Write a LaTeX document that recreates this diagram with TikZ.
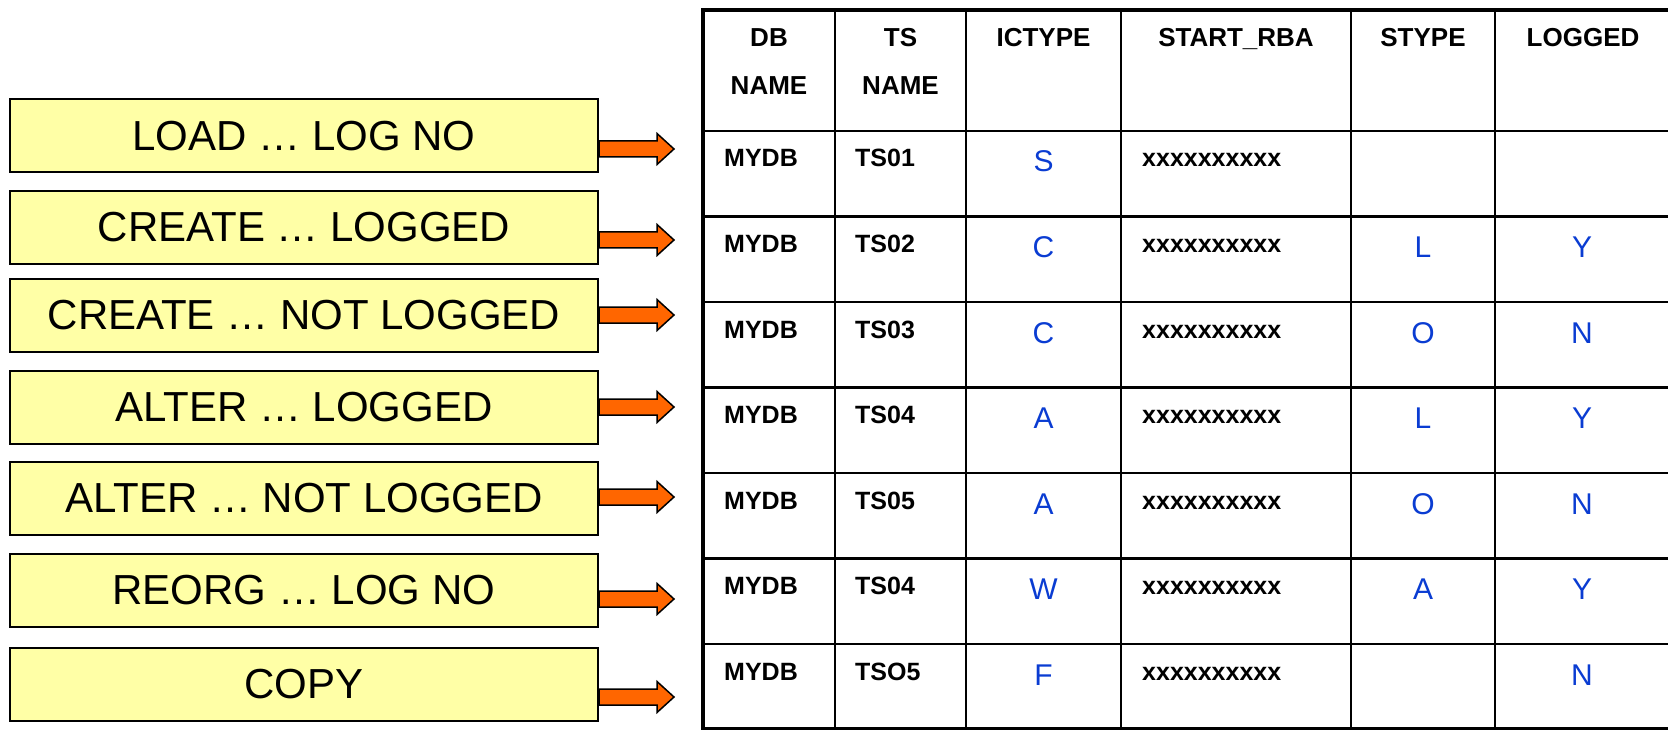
\documentclass[tikz,border=0pt]{standalone}
\usepackage{fontspec}
\setmainfont{Liberation Sans}
\usepackage{tikz}
\usetikzlibrary{calc, positioning}

\definecolor{boxyellow}{RGB}{255,255,166}
\definecolor{arroworange}{RGB}{255,102,0}
\definecolor{codeblue}{RGB}{10,60,210}

\NewDocumentCommand{\fatarrow}{%
    O{}     % drawing options
    mm      % from, tip
    }{%
    \path[#1] let
        \p1 = (#2),
        \p2 = (#3)
    in
        (\x1,{\y1+8pt}) -- ({\x2-17pt},{\y1+8pt}) -- ({\x2-17pt},{\y1+15.5pt})
        -- (\x2,\y1) -- ({\x2-17pt},{\y1-15.5pt}) -- ({\x2-17pt},{\y1-8pt})
        -- (\x1,{\y1-8pt}) -- cycle;
}

\begin{document}
\begin{tikzpicture}[x=1pt, y=-1pt,
    cmdbox/.style={draw, line width=2pt, fill=boxyellow, minimum width=588pt,
        minimum height=73pt, inner sep=0pt, font=\fontsize{42}{50}\selectfont},
    hdr/.style={anchor=base, inner sep=0pt, font=\fontsize{26}{31}\selectfont\bfseries},
    cell/.style={anchor=base west, inner sep=0pt, font=\fontsize{25}{30}\selectfont\bfseries},
    letter/.style={anchor=base, inner sep=0pt, text=codeblue, font=\fontsize{30}{36}\selectfont}]
    \useasboundingbox (0,0) rectangle (1668,730);

    % table grid
    \coordinate (tl) at (703,10);
    \coordinate (br) at (1672,729);
    \foreach \x in {835,966,1121,1351,1495}
        \draw[line width=2.5pt] (\x,10) -- (\x,729);
    \foreach \y in {131,216.5,302,387.5,473,558.5,644}
        \draw[line width=2.5pt] (703,\y) -- (1672,\y);
    \draw[line width=4pt] (tl) rectangle (br);

    % header
    \node[hdr] (hdb)  at (769,47)    {DB};
    \node[hdr] (hdbn) at (769,95)    {NAME};
    \node[hdr] (hts)  at (900.5,47)  {TS};
    \node[hdr] (htsn) at (900.5,95)  {NAME};
    \node[hdr] (hic)  at (1043.5,47) {ICTYPE};
    \node[hdr] (hrba) at (1236,47)   {START\_RBA};
    \node[hdr] (hst)  at (1423,47)   {STYPE};
    \node[hdr] (hlg)  at (1583,47)   {LOGGED};

    % rows
    \foreach \i/\ts/\ic/\st/\lg in {1/TS01/S/{}/{}, 2/TS02/C/L/Y, 3/TS03/C/O/N,
            4/TS04/A/L/Y, 5/TS05/A/O/N, 6/TS04/W/A/Y, 7/TSO5/F/{}/N} {
        \pgfmathsetmacro{\ytop}{131+85.5*(\i-1)}
        \node[cell] (db\i)  at (724,\ytop+36)  {MYDB};
        \node[cell] (ts\i)  at (855,\ytop+36)  {\ts};
        \node[letter] (ic\i) at (1043.5,\ytop+41) {\ic};
        \node[cell] (rba\i) at (1142,\ytop+36) {xxxxxxxxxx};
        \node[letter] (st\i) at (1423,\ytop+41) {\st};
        \node[letter] (lg\i) at (1582,\ytop+41) {\lg};
    }

    % commands and arrows
    \foreach \i/\yc/\ya/\txt in {1/136/149/LOAD … LOG NO, 2/227.5/240/CREATE … LOGGED,
            3/315/315/CREATE … NOT LOGGED, 4/407.5/407/ALTER … LOGGED,
            5/498/497/ALTER … NOT LOGGED, 6/590.5/599/REORG … LOG NO, 7/684/697/COPY} {
        \node[cmdbox] (cmd\i) at (304,\yc) {\txt};
        \coordinate (tip\i) at (674,\ya);
        \fatarrow[draw=black, line width=1.5pt, fill=arroworange]{cmd\i.east |- tip\i}{tip\i}
    }
\end{tikzpicture}
\end{document}
